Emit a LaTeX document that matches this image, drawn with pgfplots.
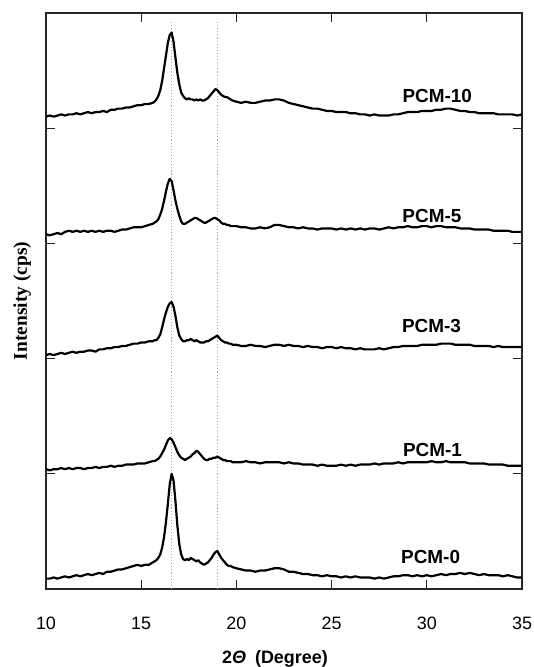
\documentclass[border=0pt]{standalone}
\usepackage{pgfplots}
\pgfplotsset{compat=1.18}
\usepackage{pgfplotstable}
\usepackage{fontspec}
\setmainfont{Liberation Sans}
\newfontfamily\timesfont{Liberation Serif}

\pgfplotstableread{
x a b c d e
10.0 0.09 1.04 2.03 3.08 4.10
10.2 0.09 1.03 2.04 3.07 4.11
10.4 0.10 1.04 2.03 3.08 4.10
10.6 0.09 1.04 2.04 3.09 4.11
10.8 0.10 1.05 2.05 3.08 4.12
11.0 0.11 1.04 2.04 3.10 4.11
11.2 0.10 1.05 2.05 3.11 4.12
11.4 0.11 1.04 2.06 3.10 4.12
11.6 0.12 1.05 2.05 3.11 4.13
11.8 0.11 1.05 2.06 3.10 4.12
12.0 0.12 1.04 2.06 3.11 4.13
12.2 0.13 1.05 2.07 3.10 4.14
12.4 0.12 1.05 2.07 3.11 4.13
12.6 0.13 1.06 2.06 3.10 4.14
12.8 0.14 1.05 2.08 3.11 4.14
13.0 0.13 1.06 2.08 3.10 4.15
13.2 0.15 1.06 2.09 3.11 4.14
13.4 0.15 1.07 2.09 3.11 4.16
13.6 0.16 1.06 2.10 3.10 4.16
13.8 0.17 1.07 2.10 3.11 4.17
14.0 0.17 1.07 2.11 3.12 4.17
14.2 0.18 1.08 2.11 3.12 4.18
14.4 0.19 1.08 2.12 3.13 4.18
14.6 0.20 1.08 2.13 3.14 4.19
14.8 0.21 1.09 2.13 3.14 4.20
15.0 0.20 1.09 2.14 3.14 4.20
15.2 0.21 1.09 2.14 3.15 4.21
15.4 0.21 1.10 2.15 3.16 4.21
15.6 0.23 1.11 2.15 3.17 4.22
15.7 0.24 1.11 2.16 3.18 4.23
15.8 0.25 1.12 2.16 3.19 4.25
15.9 0.27 1.13 2.18 3.21 4.28
16.0 0.30 1.15 2.21 3.25 4.33
16.1 0.36 1.18 2.27 3.30 4.41
16.2 0.45 1.21 2.34 3.37 4.52
16.3 0.58 1.25 2.40 3.45 4.63
16.4 0.74 1.29 2.45 3.52 4.74
16.5 0.91 1.31 2.48 3.56 4.81
16.6 1.00 1.30 2.49 3.54 4.83
16.7 0.94 1.27 2.45 3.46 4.75
16.8 0.76 1.23 2.37 3.37 4.61
16.9 0.55 1.19 2.27 3.30 4.48
17.0 0.39 1.16 2.20 3.24 4.38
17.1 0.30 1.14 2.17 3.19 4.31
17.2 0.26 1.13 2.15 3.17 4.28
17.3 0.25 1.12 2.15 3.17 4.26
17.4 0.26 1.13 2.16 3.18 4.25
17.5 0.25 1.14 2.16 3.19 4.26
17.6 0.27 1.15 2.17 3.20 4.25
17.7 0.26 1.17 2.16 3.21 4.25
17.8 0.25 1.18 2.15 3.22 4.24
17.9 0.24 1.20 2.16 3.22 4.25
18.0 0.25 1.19 2.15 3.21 4.24
18.1 0.23 1.17 2.14 3.20 4.25
18.2 0.22 1.15 2.14 3.19 4.24
18.3 0.21 1.13 2.14 3.18 4.24
18.4 0.22 1.12 2.15 3.18 4.25
18.5 0.23 1.12 2.15 3.19 4.26
18.6 0.25 1.13 2.16 3.20 4.28
18.7 0.27 1.13 2.17 3.21 4.30
18.8 0.30 1.14 2.18 3.22 4.32
18.9 0.32 1.14 2.19 3.22 4.34
19.0 0.33 1.15 2.20 3.21 4.33
19.1 0.30 1.14 2.18 3.20 4.31
19.2 0.27 1.13 2.16 3.18 4.29
19.3 0.25 1.12 2.15 3.17 4.28
19.4 0.23 1.12 2.14 3.17 4.27
19.5 0.21 1.11 2.14 3.16 4.27
19.6 0.20 1.11 2.13 3.16 4.26
19.7 0.20 1.11 2.13 3.15 4.25
19.8 0.19 1.10 2.12 3.15 4.24
20.0 0.18 1.10 2.12 3.15 4.23
20.25 0.17 1.10 2.11 3.14 4.22
20.5 0.16 1.11 2.11 3.14 4.23
20.75 0.16 1.10 2.12 3.13 4.22
21.0 0.15 1.10 2.11 3.13 4.22
21.25 0.16 1.09 2.11 3.14 4.23
21.5 0.16 1.10 2.10 3.13 4.24
21.75 0.17 1.10 2.11 3.14 4.24
22.0 0.18 1.10 2.12 3.16 4.25
22.25 0.18 1.10 2.12 3.16 4.25
22.5 0.17 1.09 2.11 3.15 4.24
22.75 0.15 1.10 2.12 3.14 4.22
23.0 0.15 1.09 2.11 3.14 4.21
23.25 0.14 1.09 2.11 3.13 4.20
23.5 0.13 1.08 2.10 3.14 4.19
23.75 0.13 1.08 2.11 3.13 4.18
24.0 0.12 1.08 2.10 3.13 4.17
24.25 0.12 1.07 2.10 3.12 4.17
24.5 0.11 1.08 2.09 3.13 4.16
24.75 0.12 1.07 2.10 3.13 4.15
25.0 0.11 1.07 2.10 3.13 4.15
25.25 0.11 1.07 2.09 3.12 4.14
25.5 0.10 1.08 2.10 3.13 4.14
25.75 0.11 1.07 2.09 3.12 4.14
26.0 0.10 1.08 2.09 3.13 4.13
26.25 0.11 1.07 2.08 3.12 4.13
26.5 0.10 1.08 2.09 3.13 4.12
26.75 0.10 1.08 2.08 3.12 4.12
27.0 0.10 1.08 2.08 3.13 4.11
27.25 0.09 1.09 2.08 3.13 4.12
27.5 0.10 1.08 2.09 3.12 4.11
27.75 0.09 1.09 2.08 3.13 4.11
28.0 0.10 1.09 2.09 3.14 4.11
28.25 0.11 1.09 2.10 3.13 4.12
28.5 0.11 1.10 2.10 3.14 4.12
28.75 0.12 1.09 2.11 3.14 4.13
29.0 0.12 1.10 2.11 3.15 4.14
29.25 0.11 1.10 2.11 3.14 4.14
29.5 0.12 1.10 2.11 3.14 4.14
29.75 0.11 1.10 2.12 3.15 4.15
30.0 0.12 1.10 2.12 3.15 4.15
30.25 0.11 1.11 2.12 3.14 4.15
30.5 0.12 1.10 2.12 3.15 4.16
30.75 0.13 1.10 2.13 3.15 4.16
31.0 0.12 1.11 2.13 3.14 4.17
31.25 0.13 1.10 2.13 3.14 4.17
31.5 0.13 1.10 2.12 3.14 4.16
31.75 0.14 1.10 2.12 3.13 4.15
32.0 0.13 1.10 2.12 3.13 4.15
32.25 0.14 1.09 2.12 3.13 4.14
32.5 0.13 1.09 2.11 3.12 4.14
32.75 0.12 1.09 2.11 3.12 4.13
33.0 0.13 1.09 2.11 3.12 4.13
33.25 0.12 1.08 2.11 3.12 4.13
33.5 0.12 1.08 2.10 3.11 4.13
33.75 0.12 1.08 2.11 3.11 4.12
34.0 0.11 1.08 2.10 3.11 4.12
34.25 0.12 1.07 2.10 3.11 4.12
34.5 0.11 1.07 2.10 3.10 4.12
34.75 0.10 1.07 2.10 3.10 4.11
35.0 0.10 1.07 2.10 3.10 4.12
}\xrd

\begin{document}
\begin{tikzpicture}
\useasboundingbox (0,0) rectangle (534bp,667bp);
\begin{axis}[
  at={(46bp,78bp)}, anchor=south west,
  width=476bp, height=576bp, scale only axis,
  xmin=10, xmax=35, ymin=0, ymax=5,
  xtick={10,15,20,25,30,35},
  ytick={0,1,2,3,4}, yticklabels={},
  tick align=inside,
  major tick length=9bp,
  axis line style={line width=1.3bp, black!85},
  tick style={line width=1.3bp, black!85},
  /pgf/number format/assume math mode=true,
  xticklabel style={font=\fontsize{18}{20}\selectfont, anchor=center, yshift=-34bp},
  xlabel={\textbf{2\textit{Θ}\enspace(Degree)}},
  xlabel style={font=\fontsize{18}{20}\selectfont, at={(axis description cs:0.481,0)}, anchor=center, yshift=-70bp},
  ylabel={\timesfont\bfseries Intensity (cps)},
  ylabel style={font=\fontsize{19.5}{21}\selectfont, at={(axis description cs:-0.05,0.5)}, rotate=0, anchor=center},
  clip=true,
]
\addplot[gray!70, dotted, line width=1.1bp] coordinates {(16.6,0) (16.6,4.92)};
\addplot[gray!70, dotted, line width=1.1bp] coordinates {(19.0,0) (19.0,4.92)};
\addplot[black, line width=2.2bp, line join=round] table[x=x, y=a] {\xrd};
\addplot[black, line width=2.2bp, line join=round] table[x=x, y=b] {\xrd};
\addplot[black, line width=2.2bp, line join=round] table[x=x, y=c] {\xrd};
\addplot[black, line width=2.2bp, line join=round] table[x=x, y=d] {\xrd};
\addplot[black, line width=2.2bp, line join=round] table[x=x, y=e] {\xrd};
\node[font=\bfseries\fontsize{19}{21}\selectfont] at (axis cs:30.55,4.28) {PCM-10};
\node[font=\bfseries\fontsize{19}{21}\selectfont] at (axis cs:30.27,3.24) {PCM-5};
\node[font=\bfseries\fontsize{19}{21}\selectfont] at (axis cs:30.25,2.28) {PCM-3};
\node[font=\bfseries\fontsize{19}{21}\selectfont] at (axis cs:30.3,1.21) {PCM-1};
\node[font=\bfseries\fontsize{19}{21}\selectfont] at (axis cs:30.2,0.28) {PCM-0};
\end{axis}
\end{tikzpicture}
\end{document}
